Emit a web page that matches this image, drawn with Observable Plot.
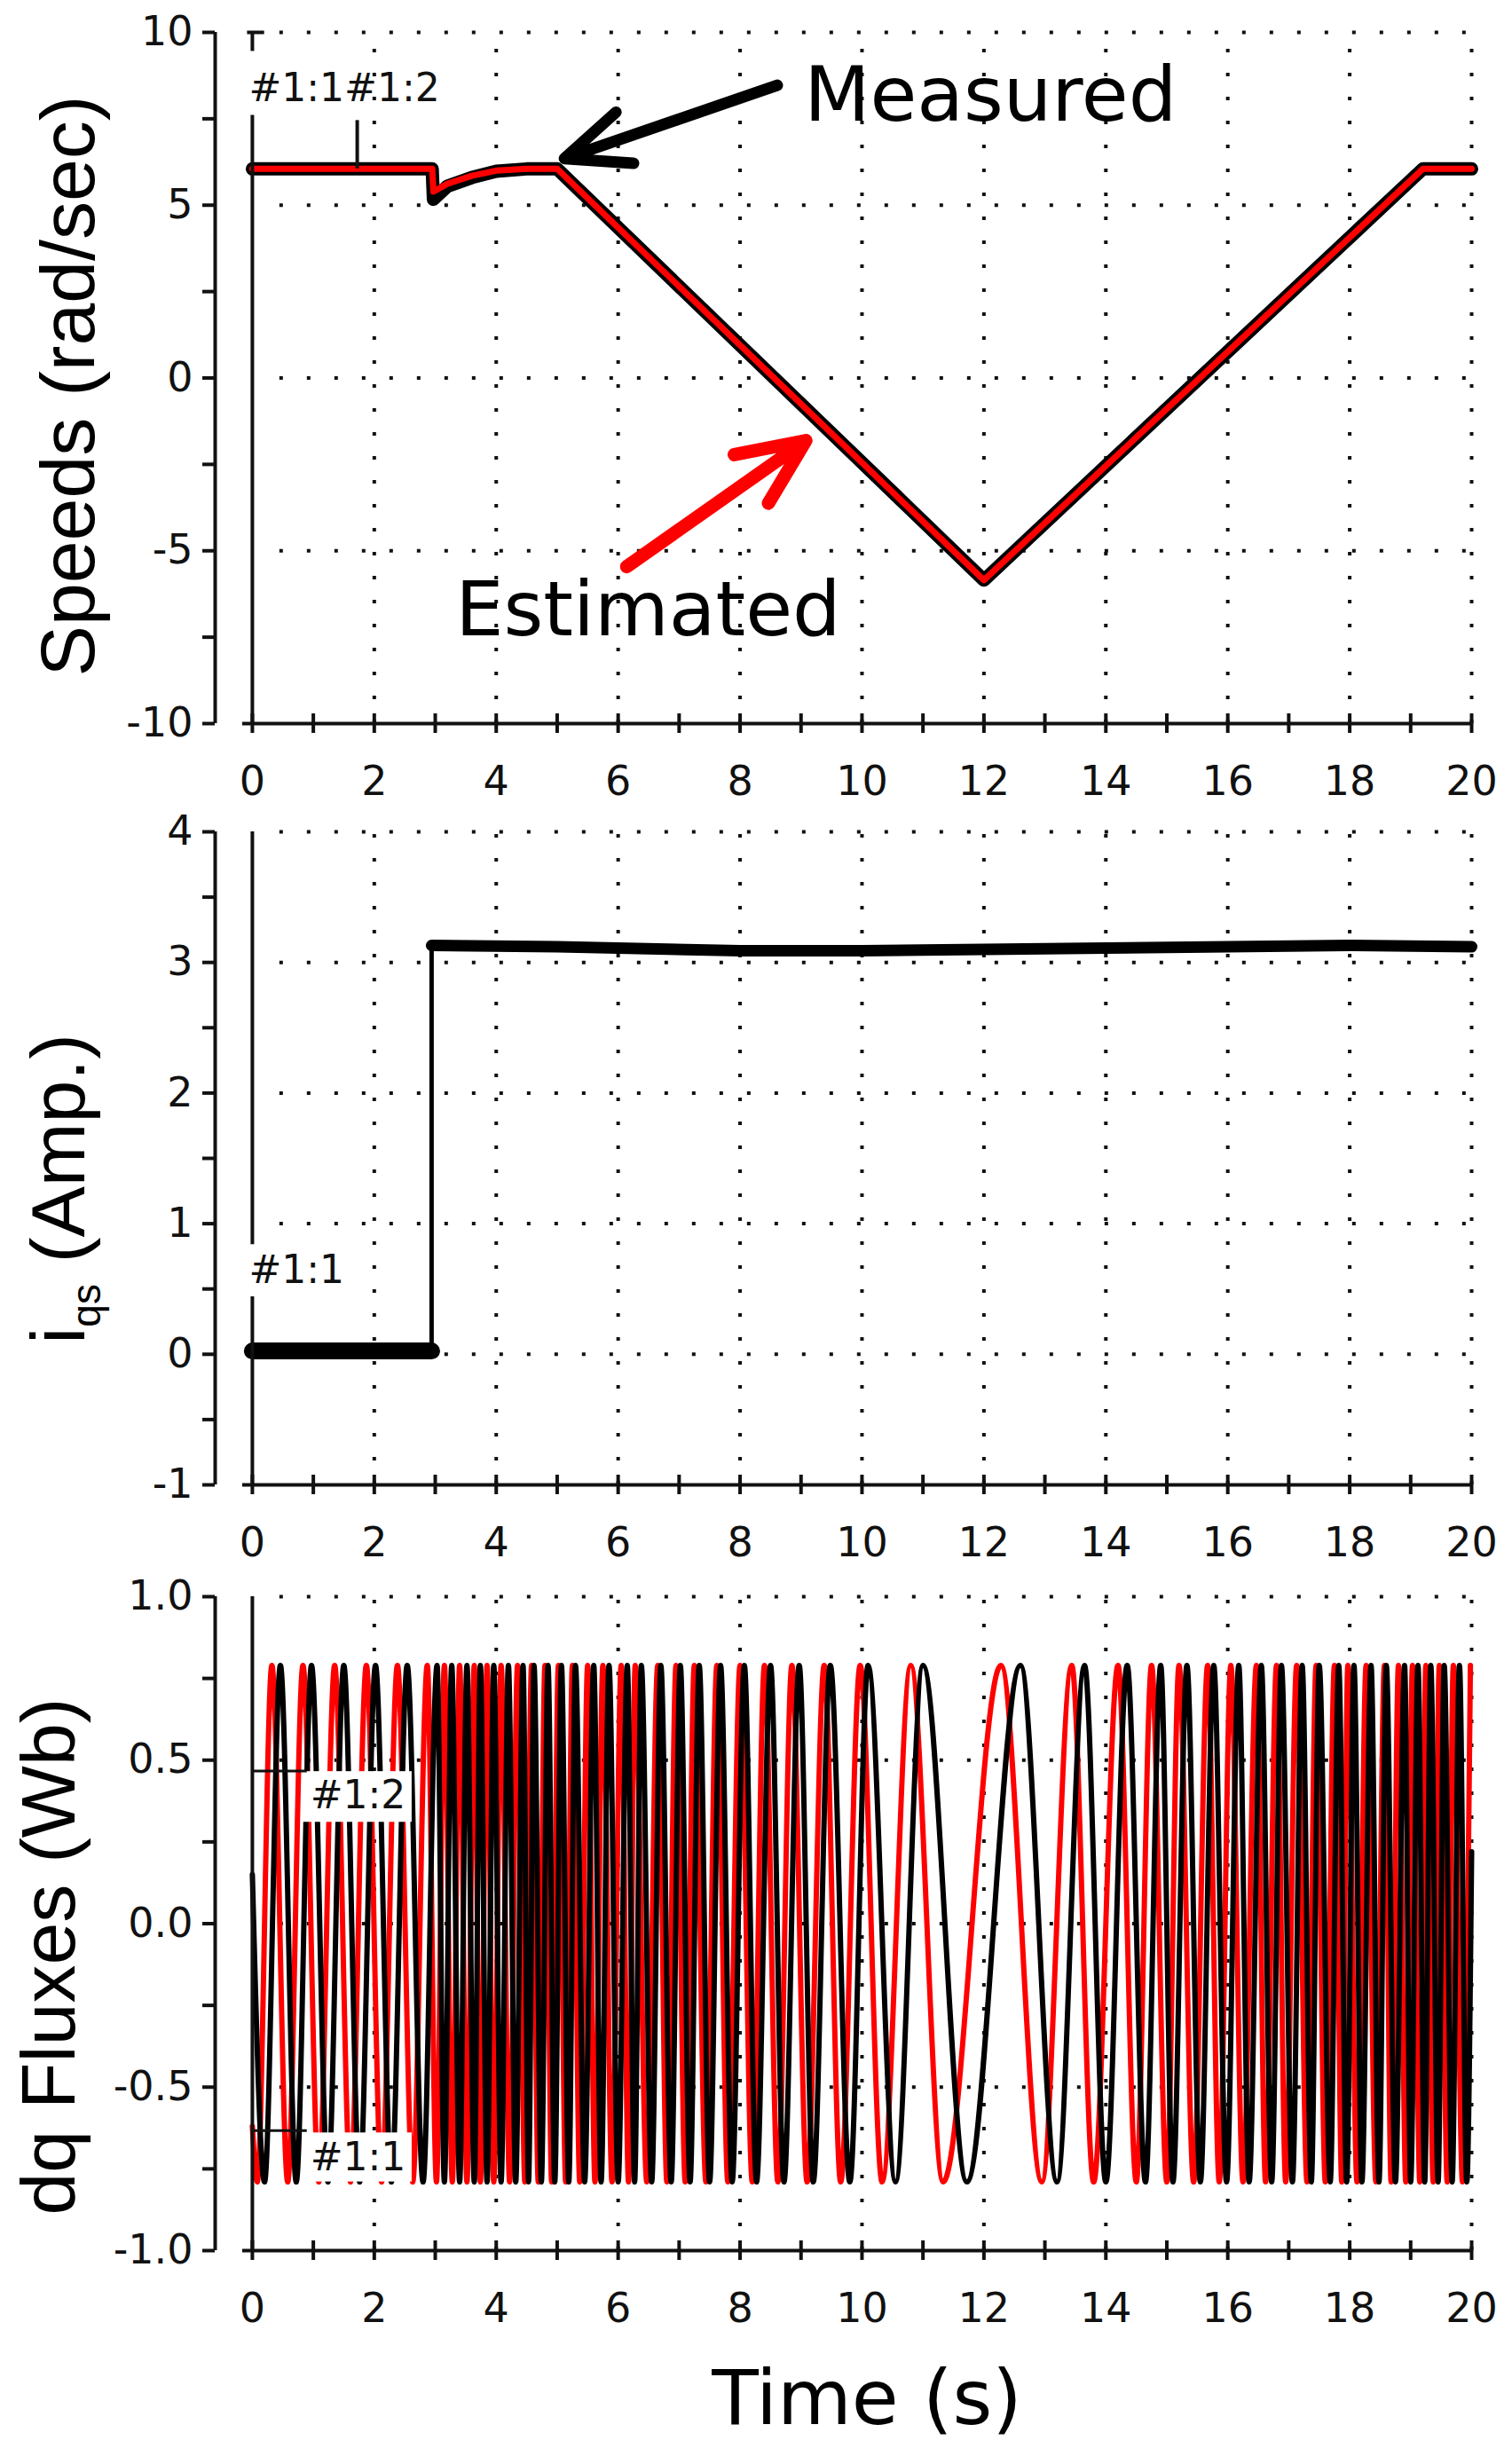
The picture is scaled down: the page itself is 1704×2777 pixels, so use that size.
<!DOCTYPE html>
<html>
<head>
<meta charset="utf-8">
<script src="https://cdn.jsdelivr.net/npm/d3@7"></script>
<script src="https://cdn.jsdelivr.net/npm/@observablehq/plot@0.6"></script>
<style>
  body { margin: 0; background: #fff; }
  #charts svg { display: block; }
</style>
</head>
<body>
<div id="charts"></div>
<script>
// ---- speeds (rad/sec) ----
const speedT      = [0, 2.95, 2.97, 3.2, 3.6, 4.0, 4.5, 5.0, 12.0, 19.2, 20]
const speedMeas   = [6.05, 6.05, 5.17, 5.55, 5.8, 5.98, 6.05, 6.05, -5.85, 6.05, 6.05]
const speedEst    = [6.05, 6.05, 5.39, 5.62, 5.85, 6.0, 6.05, 6.05, -5.85, 6.05, 6.05]

// ---- iqs (Amp.) ----
const iqsT = [0, 2.94, 2.94, 5, 8, 10, 12, 14, 16, 18, 20]
const iqsV = [0.025, 0.025, 3.13, 3.12, 3.09, 3.09, 3.1, 3.11, 3.12, 3.13, 3.12]

// ---- dq fluxes (Wb): times of the crests / troughs ----
const fluxAmp = 0.79
const redStart = -0.62
const redTops = [0.32, 0.83, 1.35, 1.87, 2.38, 2.87, 3.15, 3.4, 3.64, 3.85, 4.08, 4.35, 4.58, 4.8, 5.02,
  5.25, 5.5, 5.75, 6.05, 6.28, 6.65, 6.95, 7.25, 7.62, 8.0, 8.4, 8.85, 9.38, 9.97, 10.8, 12.28, 13.44,
  14.2, 14.75, 15.2, 15.67, 16.05, 16.47, 16.8, 17.13, 17.45, 17.75, 17.97, 18.27, 18.57, 18.8, 19.03,
  19.25, 19.47, 19.7, 19.98]
const redBottoms = [0.08, 0.58, 1.09, 1.61, 2.12, 2.63, 3.02, 3.28, 3.52, 3.74, 3.96, 4.22, 4.47, 4.69,
  4.91, 5.14, 5.37, 5.62, 5.9, 6.17, 6.47, 6.8, 7.1, 7.44, 7.8, 8.2, 8.62, 9.1, 9.65, 10.33, 11.33, 12.95,
  13.8, 14.5, 15.0, 15.44, 15.86, 16.25, 16.62, 16.95, 17.3, 17.6, 17.87, 18.12, 18.43, 18.68, 18.92,
  19.15, 19.37, 19.6, 19.85]
const blackStart = 0.15
const blackEnd = 0.22
const blackTops = [0.46, 0.97, 1.5, 2.02, 2.54, 3.03, 3.27, 3.52, 3.74, 3.96, 4.2, 4.44, 4.62, 4.85,
  5.07, 5.3, 5.6, 5.85, 6.15, 6.38, 6.7, 7.02, 7.33, 7.68, 8.07, 8.5, 8.97, 9.48, 10.1, 11.0, 12.6, 13.65,
  14.35, 14.9, 15.33, 15.77, 16.18, 16.55, 16.88, 17.22, 17.5, 17.82, 18.07, 18.35, 18.6, 18.9, 19.12,
  19.33, 19.55, 19.8]
const blackBottoms = [0.2, 0.72, 1.24, 1.76, 2.28, 2.8, 3.15, 3.4, 3.64, 3.85, 4.08, 4.32, 4.53, 4.74,
  4.96, 5.19, 5.45, 5.72, 6.0, 6.27, 6.55, 6.87, 7.18, 7.5, 7.87, 8.27, 8.72, 9.2, 9.8, 10.55, 11.72, 13.2,
  14.0, 14.65, 15.1, 15.55, 15.98, 16.35, 16.72, 17.06, 17.37, 17.68, 17.95, 18.2, 18.48, 18.75, 19.0,
  19.23, 19.45, 19.68, 19.92]

// ---- ticks ----
const xTicksAll = d3.range(0, 21, 1)
const xTicksLab = d3.range(0, 21, 2)
const xGrid = d3.range(2, 21, 2)

// rows for the library
const speedRows = speedT.map((t, i) => ({t, meas: speedMeas[i], est: speedEst[i]}))
const iqsRows = iqsT.map((t, i) => ({t, v: iqsV[i], seg: i < 2 ? 'low' : 'high'}))
const fluxRows = (start, tops, bottoms, end) => {
  const rows = [{t: 0, v: start}]
    .concat(tops.map(t => ({t, v: fluxAmp})))
    .concat(bottoms.map(t => ({t, v: -fluxAmp})))
  if (end !== undefined) rows.push({t: 20, v: end})
  return rows.sort((a, b) => a.t - b.t)
}
const redRows = fluxRows(redStart, redTops, redBottoms)
const blackRows = fluxRows(blackStart, blackTops, blackBottoms, blackEnd)

const W = 1704
const xDomain = [-0.61, 20]
const dots = '4,27'

// axes, spine, dotted grid shared by the three panels
function frameMarks(yMin, yMax, yTicksAll, isLabel, fmt, gridY) {
  return [
    Plot.ruleY(gridY, {x1: 0.45, x2: 20, strokeDasharray: dots, strokeWidth: 4}),
    Plot.ruleX(xGrid, {y1: yMin, y2: yMax, strokeDasharray: '4,23', strokeWidth: 4}),
    Plot.ruleX([xDomain[0]], {y1: yMin, y2: yMax, strokeWidth: 4}),
    Plot.ruleY([yMin], {x1: -0.16, x2: 20, strokeWidth: 4}),
    Plot.axisY({ticks: yTicksAll, tickSize: 14, tickPadding: 11, strokeWidth: 4,
      tickFormat: d => isLabel(d) ? fmt(d) : '', label: null}),
    Plot.axisX({ticks: xTicksAll, tickSize: 22, dy: -11, strokeWidth: 4, tickFormat: () => '', label: null}),
    Plot.axisX({ticks: xTicksLab, tickSize: 0, tickPadding: 48, tickFormat: d => String(d), label: null})
  ]
}

const baseStyle = {fontFamily: 'DejaVu Sans', fontSize: '46px', color: '#111', background: 'white', overflow: 'visible'}

/* Panel 1: speeds */
const chart1 = Plot.plot({
  width: W, height: 910,
  marginTop: 36, marginBottom: 95, marginLeft: 242, marginRight: 46,
  style: baseStyle,
  x: {domain: xDomain},
  y: {domain: [-10, 10]},
  marks: [
    ...frameMarks(-10, 10, d3.range(-10, 10.01, 2.5), d => d % 5 === 0, d => String(d), [10, 5, 0, -5]),
    Plot.line(speedRows, {x: 't', y: 'meas', stroke: 'black', strokeWidth: 15}),
    Plot.line(speedRows, {x: 't', y: 'est', stroke: '#ff0000', strokeWidth: 7}),
    // cursors
    Plot.ruleX([0], {y1: 10, y2: 9.45, strokeWidth: 4}),
    Plot.ruleX([0], {y1: 7.6, y2: -10, strokeWidth: 4}),
    Plot.ruleY([10], {x1: -0.08, x2: 0.2, strokeWidth: 4}),
    Plot.ruleX([1.72], {y1: 7.45, y2: 6.05, strokeWidth: 4}),
    Plot.text(['#1:1#1:2'], {x: 0, y: 8.37, dx: -4, textAnchor: 'start', fontSize: 44, fill: '#111'}),
    // annotations
    Plot.arrow([{x1: 8.61, y1: 8.47, x2: 5.12, y2: 6.35}], {x1: 'x1', y1: 'y1', x2: 'x2', y2: 'y2',
      stroke: 'black', strokeWidth: 13, headLength: 9, headAngle: 46, strokeLinecap: 'round'}),
    Plot.arrow([{x1: 6.14, y1: -5.46, x2: 9.08, y2: -1.81}], {x1: 'x1', y1: 'y1', x2: 'x2', y2: 'y2',
      stroke: '#ff0000', strokeWidth: 15, headLength: 8.5, headAngle: 48, strokeLinecap: 'round'}),
    Plot.text(['Measured'], {x: 9.05, y: 8.14, textAnchor: 'start', fontSize: 86, fontFamily: 'DejaVu Sans', fill: 'black'}),
    Plot.text(['Estimated'], {x: 3.33, y: -6.75, textAnchor: 'start', fontSize: 86, fontFamily: 'DejaVu Sans', fill: 'black'})
  ]
})

/* Panel 2: iqs */
const chart2 = Plot.plot({
  width: W, height: 860,
  marginTop: 27, marginBottom: 97, marginLeft: 242, marginRight: 46,
  style: baseStyle,
  x: {domain: xDomain},
  y: {domain: [-1, 4]},
  marks: [
    ...frameMarks(-1, 4, d3.range(-1, 4.01, 0.5), d => Number.isInteger(d), d => String(d), [4, 3, 2, 1, 0]),
    Plot.line(iqsRows, {x: 't', y: 'v', stroke: 'black', strokeWidth: 5}),
    Plot.line(iqsRows.filter(d => d.seg === 'low'), {x: 't', y: 'v', stroke: 'black', strokeWidth: 19}),
    Plot.line(iqsRows.filter(d => d.seg === 'high'), {x: 't', y: 'v', stroke: 'black', strokeWidth: 13}),
    Plot.ruleX([0], {y1: 4, y2: 0.84, strokeWidth: 4}),
    Plot.ruleX([0], {y1: 0.44, y2: -1, strokeWidth: 4}),
    Plot.text(['#1:1'], {x: 0, y: 0.64, dx: -4, textAnchor: 'start', fontSize: 44, fill: '#111'})
  ]
})

/* Panel 3: dq fluxes */
const chart3 = Plot.plot({
  width: W, height: 1007,
  marginTop: 29, marginBottom: 241, marginLeft: 242, marginRight: 46,
  style: baseStyle,
  x: {domain: xDomain},
  y: {domain: [-1, 1]},
  marks: [
    ...frameMarks(-1, 1, d3.range(-1, 1.001, 0.25), d => Math.abs(d * 2 - Math.round(d * 2)) < 1e-9,
      d => d.toFixed(1), [1, 0.5, 0, -0.5]),
    Plot.line(redRows, {x: 't', y: 'v', stroke: '#ff0000', strokeWidth: 6, curve: 'monotone-x'}),
    Plot.line(blackRows, {x: 't', y: 'v', stroke: 'black', strokeWidth: 6, curve: 'monotone-x'}),
    Plot.rect([{x1: 0.83, x2: 2.62, y1: 0.31, y2: 0.465}, {x1: 0.83, x2: 2.62, y1: -0.79, y2: -0.64}],
      {x1: 'x1', x2: 'x2', y1: 'y1', y2: 'y2', fill: 'white'}),
    Plot.ruleY([0.467], {x1: 0, x2: 0.9, strokeWidth: 3}),
    Plot.ruleY([-0.633], {x1: 0, x2: 0.9, strokeWidth: 3}),
    Plot.ruleX([0], {y1: 1, y2: -1, strokeWidth: 4}),
    Plot.text(['#1:2'], {x: 0.95, y: 0.39, textAnchor: 'start', fontSize: 44, fill: '#111'}),
    Plot.text(['#1:1'], {x: 0.95, y: -0.715, textAnchor: 'start', fontSize: 44, fill: '#111'})
  ]
})

const holder = d3.select('#charts')
holder.append(() => chart1)
holder.append(() => chart2)
holder.append(() => chart3)

// rotated y titles and the shared x title
function yTitle(svg, x, y) {
  return d3.select(svg).append('text')
    .attr('transform', `translate(${x},${y}) rotate(-90)`)
    .attr('text-anchor', 'middle')
    .attr('font-family', 'Liberation Sans')
    .attr('font-size', 86)
    .attr('fill', 'black')
}
yTitle(chart1, 106, 435).text('Speeds (rad/sec)')
const t2 = yTitle(chart2, 95, 430)
t2.append('tspan').text('i')
t2.append('tspan').attr('font-size', 46).attr('dy', 18).text('qs')
t2.append('tspan').attr('dy', -18).text(' (Amp.)')
yTitle(chart3, 84, 435).text('dq Fluxes (Wb)')

d3.select(chart3).append('text')
  .attr('x', 977).attr('y', 962)
  .attr('text-anchor', 'middle')
  .attr('font-family', 'DejaVu Sans')
  .attr('font-size', 86)
  .attr('fill', 'black')
  .text('Time (s)')
</script>
</body>
</html>
